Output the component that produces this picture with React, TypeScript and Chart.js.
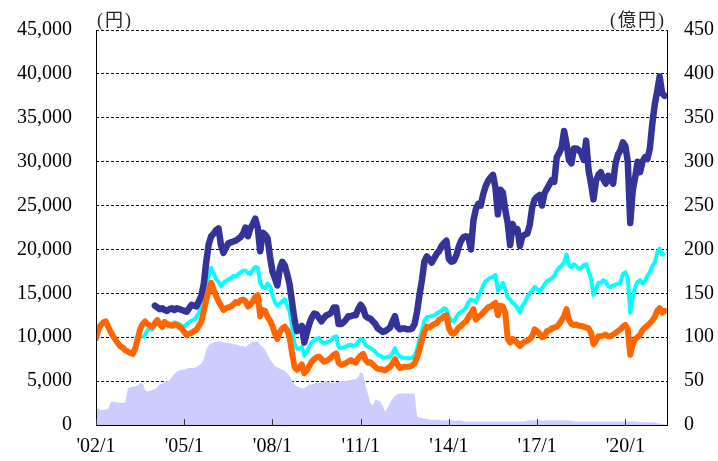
import React, { useEffect, useRef } from "react";
import { Chart, registerables } from "chart.js";

Chart.register(...registerables);

// Month index 0 = 2002/1
const TICK_MONTHS = [0, 36, 72, 108, 144, 180, 216];
const TICK_LABELS = ["'02/1", "'05/1", "'08/1", "'11/1", "'14/1", "'17/1", "'20/1"];
const X_MAX = 233;
const LEFT_UNIT = "(円)";
const RIGHT_UNIT = "(億円)";

// Orange series (円), from 2002/1
const ORANGE_START = 0;
const ORANGE = [
  9900, 10900, 11400, 11700, 11800, 11200, 10600, 10100, 9700, 9300, 8950, 8800,
  8500, 8350, 8200, 8100, 8700, 9800, 10900, 11500, 11800, 11500, 11300, 11200,
  11600, 11950, 11500, 11200, 11750, 11500, 11400, 11300, 11450, 11400, 11200, 11000,
  10600, 10250, 10400, 10500, 10700, 10850, 11300, 11800, 13000, 14300, 15300, 16200,
  15400, 14700, 14100, 13600, 13100, 13300, 13400, 13500, 13700, 14000, 13900, 14200,
  14300, 14100, 13500, 13700, 14100, 14600, 14800, 12400, 13100, 13000, 12300, 11900,
  11300, 10400, 9800, 10600, 11000, 11200, 10800, 10000, 8200, 6600, 6300, 6600,
  6900, 5900, 6200, 6700, 7200, 7500, 7700, 7800, 7500, 7200, 7300, 7450,
  7700, 8000, 8150, 7100, 6850, 6950, 7050, 7250, 7400, 7200, 7100, 7600,
  7900, 8100, 7400, 7100, 7150, 6900, 6600, 6400, 6350, 6300, 6200, 6450,
  6600, 7000, 7500, 6900, 6500, 6550, 6650, 6650, 6650, 6800, 7000, 7700,
  8600, 9700, 10600, 11200, 11100, 11300, 11500, 11600, 12000, 12100, 12400, 12500,
  11000, 10500, 10400, 10700, 11100, 11300, 11600, 11800, 12300, 12700, 13200, 12000,
  12300, 12500, 12800, 13100, 13400, 13500, 13700, 13900, 12500, 13600, 13500, 12800,
  9800, 9400, 9800, 9600, 9300, 9000, 9300, 9500, 9600, 9800, 10100, 10900,
  10700, 10400, 10000, 10100, 10700, 10800, 11000, 11100, 11200, 11500, 11900, 12400,
  13200, 12000, 11500, 11400, 11450, 11300, 11300, 11200, 11100, 11000, 10500, 9200,
  9600, 10100, 10100, 10200, 10300, 10100, 10100, 10300, 10500, 10700, 10900, 11200,
  11400, 10900, 8000, 9200, 9800, 10000, 10300, 10800, 11100, 11300, 11600, 11900,
  12300, 13000, 13300, 12800, 13000,
];

// Cyan series (円), from 2003/8
const CYAN_START = 19;
const CYAN = [
  9900, 10300, 10800, 11000, 10900,
  11300, 11600, 11300, 11000, 11500, 11300, 11400, 11500, 11700, 11600, 11500, 11300,
  11200, 11500, 11700, 11900, 12000, 12300, 12800, 13600, 15000, 16200, 17000, 17900,
  17300, 16600, 16300, 15800, 16200, 16400, 16600, 16700, 17000, 16900, 17200, 17400,
  17600, 17600, 17300, 17200, 17700, 18000, 17900, 16200, 15700, 15600, 16100, 15800,
  14800, 14000, 13600, 13800, 14100, 14300, 13600, 12900, 11200, 9200, 8700, 8700,
  8900, 7900, 8300, 8900, 9400, 9600, 9800, 9900, 9500, 9300, 9400, 9500,
  9700, 10000, 10100, 8900, 8750, 8850, 8950, 9100, 9150, 9000, 9100, 9500,
  9800, 9700, 9100, 8900, 8750, 8600, 8300, 8000, 7900, 7700, 7650, 7750,
  7800, 8200, 8750, 8100, 7800, 7700, 7650, 7600, 7600, 7650, 7900, 8600,
  9800, 10700, 11900, 12300, 12350, 12400, 12500, 12700, 12900, 13000, 13300, 13200,
  12300, 11900, 11800, 12300, 12700, 12900, 13100, 13400, 14000, 14300, 14200, 14000,
  14700, 15200, 15900, 16400, 16600, 16800, 16900, 17100, 15300, 15600, 16200, 15500,
  14500, 14300, 13900, 13700, 13300, 12800, 13600, 14000, 14600, 15000, 15300, 15700,
  15500, 15200, 15600, 16000, 16400, 16500, 16700, 17000, 17600, 17900, 18200, 18500,
  19400, 18200, 18000, 18300, 18100, 17800, 17900, 18200, 18300, 17500, 16700, 14800,
  15500, 16200, 16200, 16500, 16300, 15800, 15700, 15900, 16000, 16100, 16200, 17200,
  17400, 16700, 12800, 14600, 15700, 16300, 16500, 16100, 16400, 17000, 17400, 18100,
  18500, 19600, 20100, 19400, 19600,
];

// Navy series (円), from 2004/1
const NAVY_START = 24;
const NAVY = [
  13600, 13400, 13200, 13300, 13100, 13000, 13200, 13300, 13100, 13300, 13200, 13100,
  13000, 12900, 13300, 13700, 13600, 13500, 14100, 14700, 16100, 18600, 20600, 21500,
  21800, 22200, 22400, 20500, 19600, 20200, 20700, 20800, 20900, 21000, 21200, 21400,
  21800, 22500, 21500, 22400, 22900, 23500, 22500, 19800, 21900, 21700, 21300, 19200,
  17500, 16700, 15900, 17800, 18600, 18200, 17200, 16000, 14000, 12000, 10700, 10900,
  11300, 9400, 10500, 11500, 12200, 12700, 12600, 12200, 11800, 12200, 12500, 12600,
  12800, 13400, 13400, 11500, 11500, 11700, 12000, 12400, 12400, 12500, 12500, 13200,
  13700, 13300, 12400, 12200, 12100, 11800, 11500, 11000, 10800, 10600, 10700, 10900,
  11100, 11800, 12400, 11200, 10900, 11000, 11000, 10900, 10900, 11000, 11500, 12900,
  14800, 16500, 18600, 19200, 18900, 18500, 19000, 19500, 19800, 20400, 20700, 21000,
  18900, 18600, 18700, 19300, 20300, 21000, 21400, 21500, 21400, 20000, 23300, 24600,
  25200, 25000, 26300, 27200, 27800, 28200, 28500, 27000, 24000, 26800, 26500, 24500,
  23000, 20500, 22900, 22000, 22300, 20400, 21500, 21700, 21800, 22800, 24800, 25700,
  26000, 26200, 25000, 26400, 26900, 27400, 27900, 27700, 30500, 31000, 31600, 33500,
  32000, 30200, 29800, 31500, 31500, 31300, 31000, 30200, 32400, 29000, 27500, 25700,
  27800, 28500, 28800, 28000, 27500, 28400, 28000, 27500, 29800, 30800, 31300, 32200,
  31800, 30000, 23000, 26700, 28200, 30000, 28800, 30000, 30500, 30300, 31500, 34300,
  36500, 38000, 39700, 37800, 37500,
];

// Lavender area (億円, right axis), from 2002/1
const AREA_START = 0;
const AREA = [
  18, 19, 17, 17, 18, 18, 26, 27, 26, 26, 25, 25,
  26, 42, 43, 44, 44, 45, 47, 48, 40, 38, 39, 40,
  41, 43, 46, 47, 48, 50, 51, 55, 58, 61, 62, 63,
  63, 64, 65, 65, 65, 66, 68, 70, 75, 86, 91, 93,
  94, 95, 95, 95, 94, 94, 93, 93, 92, 92, 91, 90,
  90, 89, 91, 93, 95, 94, 96, 91, 89, 86, 80, 75,
  71, 67, 66, 64, 63, 62, 59, 56, 50, 46, 44, 43,
  42, 42, 44, 46, 46, 47, 48, 48, 48, 49, 50, 49,
  48, 48, 49, 49, 50, 50, 50, 51, 51, 52, 52, 55,
  60, 58, 45, 35, 25, 22, 29, 28, 27, 22, 15, 20,
  25, 30, 33, 35, 36, 36, 36, 36, 36, 36, 36, 10,
  8, 8, 7, 7, 6, 6, 6, 6, 6, 5, 5, 5,
  5, 5, 5, 5, 5, 5, 4, 4, 4, 4, 4, 4,
  4, 4, 4, 4, 4, 4, 4, 4, 4, 4, 4, 4,
  4, 4, 4, 4, 4, 4, 4, 4, 5, 5, 5, 5,
  5, 5, 5, 5, 5, 5, 5, 5, 5, 5, 5, 5,
  5, 5, 5, 4, 4, 4, 4, 4, 4, 4, 4, 4,
  4, 4, 4, 4, 4, 4, 4, 4, 4, 4, 4, 4,
  4, 4, 4, 4, 4, 4, 3, 3, 3, 3, 3, 3,
  3, 2, 2, 1, 1,
];

const toPoints = (values: number[], start: number) =>
  values.map((v, i) => ({ x: start + i, y: v }));

const SERIF = "'Liberation Serif', 'Times New Roman', serif";
const UNIT_FONT = "18px 'Liberation Serif', 'Noto Sans CJK JP', serif";

const decorPlugin = {
  id: "decor",
  afterDraw(chart: any) {
    const { ctx, chartArea, scales } = chart;
    const { left, right, top, bottom } = chartArea;
    ctx.save();
    // solid frame: left, right, bottom
    ctx.strokeStyle = "#000";
    ctx.lineWidth = 1;
    ctx.setLineDash([]);
    ctx.beginPath();
    ctx.moveTo(Math.round(left) + 0.5, top);
    ctx.lineTo(Math.round(left) + 0.5, bottom);
    ctx.moveTo(Math.round(right) + 0.5, top);
    ctx.lineTo(Math.round(right) + 0.5, bottom);
    ctx.moveTo(left, Math.round(bottom) + 0.5);
    ctx.lineTo(right + 1, Math.round(bottom) + 0.5);
    ctx.stroke();
    // inward tick marks on x axis
    ctx.strokeStyle = "#333";
    ctx.beginPath();
    for (const t of scales.x.ticks) {
      const px = Math.round(scales.x.getPixelForValue(t.value)) + 0.5;
      ctx.moveTo(px, bottom);
      ctx.lineTo(px, bottom - 6);
    }
    ctx.stroke();
    // unit labels
    ctx.fillStyle = "#222";
    ctx.font = UNIT_FONT;
    ctx.textBaseline = "alphabetic";
    (ctx as any).letterSpacing = "2px";
    ctx.textAlign = "left";
    ctx.fillText(LEFT_UNIT, left + 1, top - 4);
    ctx.textAlign = "right";
    ctx.fillText(RIGHT_UNIT, right - 1, top - 4);
    ctx.restore();
  },
};

export default function App() {
  const canvasRef = useRef<HTMLCanvasElement | null>(null);

  useEffect(() => {
    const canvas = canvasRef.current;
    if (!canvas) return;
    const font = { family: SERIF, size: 20 };
    const clear = "rgba(0,0,0,0)";
    const chart = new Chart(canvas, {
      type: "line",
      data: {
        datasets: [
          {
            label: "orange",
            data: toPoints(ORANGE, ORANGE_START),
            borderColor: "#FF6600",
            borderWidth: 6,
            pointRadius: 0,
            tension: 0,
            fill: false,
            yAxisID: "y",
            order: 1,
            borderJoinStyle: "round",
            borderCapStyle: "round",
          },
          {
            label: "navy",
            data: toPoints(NAVY, NAVY_START),
            borderColor: "#333399",
            borderWidth: 6.5,
            pointRadius: 0,
            tension: 0,
            fill: false,
            yAxisID: "y",
            order: 2,
            borderJoinStyle: "round",
            borderCapStyle: "round",
          },
          {
            label: "cyan",
            data: toPoints(CYAN, CYAN_START),
            borderColor: "#00FFFF",
            borderWidth: 4,
            pointRadius: 0,
            tension: 0,
            fill: false,
            yAxisID: "y",
            order: 3,
            borderJoinStyle: "round",
          },
          {
            label: "area",
            data: toPoints(AREA, AREA_START),
            borderColor: clear,
            borderWidth: 0,
            backgroundColor: "#CCCCFF",
            pointRadius: 0,
            tension: 0,
            fill: "origin",
            yAxisID: "y1",
            order: 4,
          },
        ],
      },
      options: {
        responsive: false,
        animation: false,
        events: [],
        layout: { padding: { top: 30, left: 0, right: 0, bottom: 0 } },
        plugins: {
          legend: { display: false },
          tooltip: { enabled: false },
          title: { display: false },
        },
        scales: {
          x: {
            type: "linear",
            min: 0,
            max: X_MAX,
            afterBuildTicks: (axis: any) => {
              axis.ticks = TICK_MONTHS.map((v) => ({ value: v }));
            },
            ticks: {
              autoSkip: false,
              maxRotation: 0,
              minRotation: 0,
              font,
              color: "#000",
              padding: 10,
              callback: (v: any) => {
                const i = TICK_MONTHS.indexOf(Number(v));
                return i >= 0 ? TICK_LABELS[i] : "";
              },
            },
            grid: { display: false, drawTicks: false },
            border: { display: false },
            afterFit: (axis: any) => {
              axis.height = 36;
            },
          },
          y: {
            position: "left",
            min: 0,
            max: 45000,
            ticks: {
              stepSize: 5000,
              font,
              color: "#000",
              padding: 2,
              callback: (v: any) => Number(v).toLocaleString("en-US"),
            },
            grid: {
              color: "#111",
              lineWidth: 1,
              drawTicks: true,
              tickLength: 22,
              tickColor: clear,
            },
            border: { display: false, dash: [3, 2] },
            afterFit: (axis: any) => {
              axis.width = 96;
            },
          },
          y1: {
            position: "right",
            min: 0,
            max: 450,
            ticks: {
              stepSize: 50,
              font,
              color: "#000",
              padding: 2,
            },
            grid: {
              display: true,
              drawOnChartArea: false,
              drawTicks: true,
              tickLength: 15,
              tickColor: clear,
              color: clear,
            },
            border: { display: false },
            afterFit: (axis: any) => {
              axis.width = 51;
            },
          },
        },
      },
      plugins: [decorPlugin],
    } as any);
    return () => chart.destroy();
  }, []);

  return (
    <div style={{ position: "fixed", left: 0, top: 0, width: 718, height: 461, background: "#fff" }}>
      <canvas ref={canvasRef} width={718} height={461} />
    </div>
  );
}
